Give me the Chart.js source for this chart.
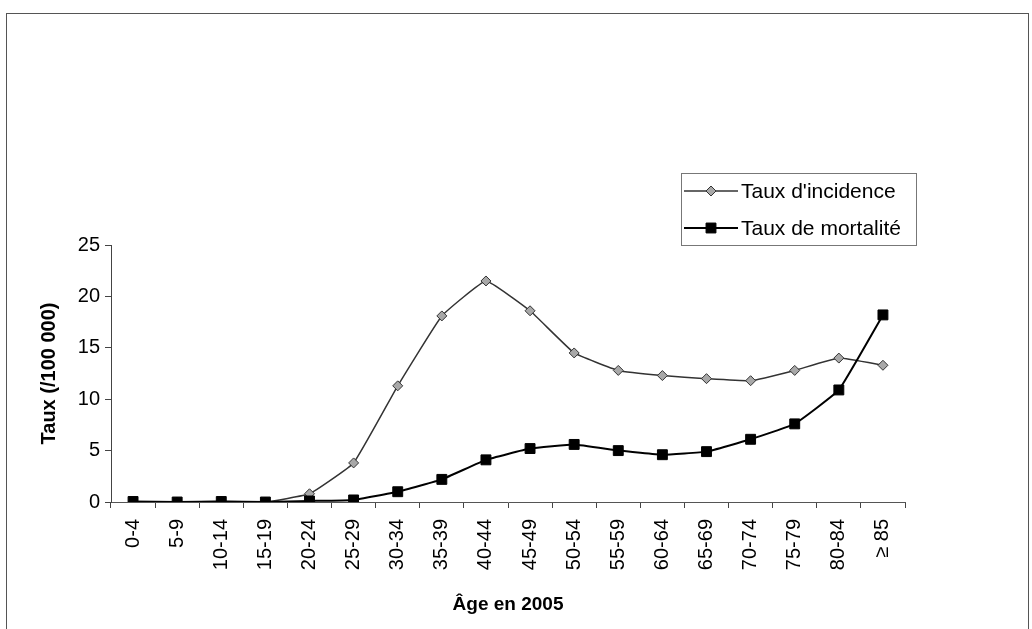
<!DOCTYPE html>
<html>
<head>
<meta charset="utf-8">
<script src="https://cdn.jsdelivr.net/npm/chart.js@4.4.1/dist/chart.umd.min.js"></script>
<style>
  html, body { margin: 0; padding: 0; background: #fff; }
  #wrap { position: relative; width: 1032px; height: 629px; }
</style>
</head>
<body>
<div id="wrap"><canvas id="chart"></canvas></div>
<script>
// Data
const ageGroups = ['0-4', '5-9', '10-14', '15-19', '20-24', '25-29', '30-34', '35-39', '40-44',
    '45-49', '50-54', '55-59', '60-64', '65-69', '70-74', '75-79', '80-84', '≥ 85'];
const incidence = [0, 0, 0.05, 0, 0.8, 3.8, 11.3, 18.1, 21.5, 18.6, 14.5, 12.8, 12.3, 12.0, 11.8, 12.8, 14.0, 13.3];
const mortality = [0.05, 0, 0.05, 0, 0.1, 0.2, 1.0, 2.2, 4.1, 5.2, 5.6, 5.0, 4.6, 4.9, 6.1, 7.6, 10.9, 18.2];
const yMin = 0;
const yMax = 25;
const yStep = 5;

const FONT = '"Liberation Sans", Arial, sans-serif';

// Outer frame
const frame = {
    id: 'frame',
    beforeDraw(chart) {
        const ctx = chart.ctx;
        ctx.save();
        ctx.strokeStyle = '#555';
        ctx.lineWidth = 1;
        ctx.strokeRect(6.5, 13.5, 1022, 700);
        ctx.restore();
    }
};

// Legend box drawn inside the plot, like the original
const legendBox = {
    id: 'legendBox',
    afterDraw(chart) {
        const ctx = chart.ctx;
        ctx.save();
        ctx.fillStyle = '#fff';
        ctx.fillRect(681.5, 173.5, 235, 72);
        ctx.strokeStyle = '#777';
        ctx.lineWidth = 1;
        ctx.strokeRect(681.5, 173.5, 235, 72);
        chart.data.datasets.forEach((ds, i) => {
            const y = 191 + i * 37;
            ctx.strokeStyle = ds.borderColor;
            ctx.lineWidth = ds.borderWidth;
            ctx.beginPath();
            ctx.moveTo(684, y);
            ctx.lineTo(738, y);
            ctx.stroke();
            ctx.fillStyle = ds.pointBackgroundColor;
            ctx.strokeStyle = ds.pointBorderColor;
            ctx.lineWidth = 1;
            ctx.beginPath();
            if (ds.pointStyle === 'rectRot') {
                const r = ds.pointRadius;
                ctx.moveTo(711, y - r);
                ctx.lineTo(711 + r, y);
                ctx.lineTo(711, y + r);
                ctx.lineTo(711 - r, y);
                ctx.closePath();
            } else {
                const s = ds.pointRadius * Math.SQRT1_2;
                ctx.rect(711 - s, y - s, 2 * s, 2 * s);
            }
            ctx.fill();
            ctx.stroke();
            ctx.fillStyle = '#000';
            ctx.font = '21px ' + FONT;
            ctx.textBaseline = 'middle';
            ctx.fillText(ds.label, 741, y + 1);
        });
        ctx.restore();
    }
};

new Chart(document.getElementById('chart'), {
    type: 'line',
    data: {
        labels: ageGroups,
        datasets: [{
            label: "Taux d'incidence",
            data: incidence,
            borderColor: '#333',
            borderWidth: 1.5,
            pointStyle: 'rectRot',
            pointRadius: 5,
            pointBackgroundColor: '#a8a8a8',
            pointBorderColor: '#333',
            pointBorderWidth: 1,
            tension: 0.1,
            order: 2
        }, {
            label: 'Taux de mortalité',
            data: mortality,
            borderColor: '#000',
            borderWidth: 2,
            pointStyle: 'rect',
            pointRadius: 7,
            pointBackgroundColor: '#000',
            pointBorderColor: '#000',
            pointBorderWidth: 1,
            tension: 0.1,
            order: 1
        }]
    },
    options: {
        responsive: true,
        maintainAspectRatio: false,
        animation: false,
        layout: { padding: { left: 0, right: 127, top: 245, bottom: 0 } },
        plugins: {
            legend: { display: false },
            tooltip: { enabled: false }
        },
        scales: {
            x: {
                offset: true,
                afterFit: (scale) => { scale.height = 127; },
                grid: { offset: true, drawOnChartArea: false, tickLength: 6, color: '#444' },
                border: { color: '#555' },
                ticks: {
                    minRotation: 90, maxRotation: 90, autoSkip: false, padding: 11,
                    color: '#000', font: { family: FONT, size: 20 }
                },
                title: {
                    display: true, text: 'Âge en 2005', color: '#000',
                    font: { family: FONT, size: 19, weight: 'bold' },
                    padding: { top: 0, bottom: 13 }
                }
            },
            y: {
                min: yMin,
                max: yMax,
                afterFit: (scale) => { scale.width = 111; },
                grid: { drawOnChartArea: false, tickLength: 6, color: '#444' },
                border: { color: '#444' },
                ticks: {
                    stepSize: yStep, padding: 5,
                    color: '#000', font: { family: FONT, size: 20 }
                },
                title: {
                    display: true, text: 'Taux (/100 000)', color: '#000',
                    font: { family: FONT, size: 20, weight: 'bold' },
                    padding: { top: 37, bottom: 0 }
                }
            }
        }
    },
    plugins: [frame, legendBox]
});
</script>
</body>
</html>
